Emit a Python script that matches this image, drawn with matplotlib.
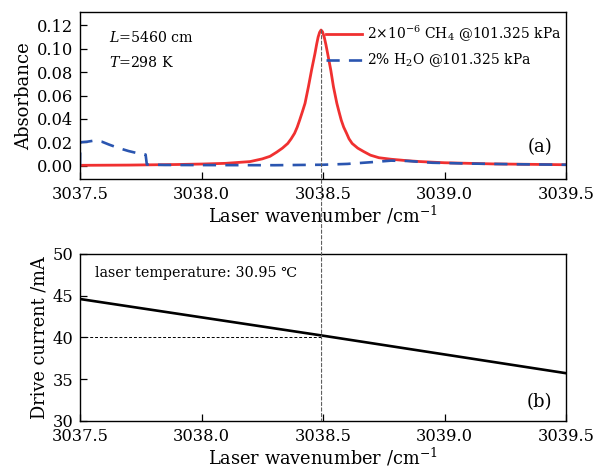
import matplotlib
matplotlib.use("Agg")
import matplotlib.pyplot as plt
from matplotlib.patches import ConnectionPatch

# ---- data ----
ch4_wn = [3037.50, 3037.70, 3037.90, 3038.00, 3038.10, 3038.20, 3038.25, 3038.282,
          3038.309, 3038.333, 3038.355, 3038.369, 3038.383, 3038.394, 3038.404,
          3038.415, 3038.426, 3038.440, 3038.453, 3038.467, 3038.474, 3038.480,
          3038.486, 3038.492, 3038.498, 3038.505, 3038.512, 3038.519, 3038.532,
          3038.543, 3038.557, 3038.566, 3038.575, 3038.585, 3038.597, 3038.607,
          3038.620, 3038.643, 3038.668, 3038.695, 3038.730, 3038.780, 3038.850,
          3038.900, 3039.000, 3039.200, 3039.500]
ch4_abs = [0.0003, 0.0005, 0.0010, 0.0014, 0.0020, 0.0035, 0.0058, 0.0080,
           0.0115, 0.0150, 0.0190, 0.0230, 0.0277, 0.0330, 0.0390,
           0.0460, 0.0533, 0.0675, 0.0818, 0.0960, 0.1040, 0.1100,
           0.1140, 0.1160, 0.1145, 0.1100, 0.1035, 0.0960, 0.0818,
           0.0675, 0.0533, 0.0460, 0.0390, 0.0330, 0.0277, 0.0230,
           0.0190, 0.0150, 0.0120, 0.0090, 0.0068, 0.0055, 0.0042,
           0.0035, 0.0025, 0.0015, 0.0008]

h2o_wn = [3037.500, 3037.501, 3037.53, 3037.56, 3037.59, 3037.62, 3037.66, 3037.70,
          3037.74, 3037.77, 3037.775, 3037.85, 3038.00, 3038.30, 3038.50, 3038.60,
          3038.70, 3038.78, 3038.85, 3038.95, 3039.10, 3039.30, 3039.50]
h2o_abs = [0.0000, 0.0200, 0.0205, 0.0215, 0.0205, 0.0180, 0.0150, 0.0125,
           0.0105, 0.0095, 0.0010, 0.0006, 0.0005, 0.0004, 0.0008, 0.0015,
           0.0030, 0.0043, 0.0040, 0.0025, 0.0018, 0.0012, 0.0008]

cur_wn = [3037.5, 3038.0, 3038.5, 3039.0, 3039.5]
cur_mA = [44.6, 42.4, 40.2, 37.95, 35.7]

peak_wn = 3038.494
peak_abs = 0.116
op_current = 40.1

ch4_label = r"2$\times$10$^{-6}$ CH$_4$ @101.325 kPa"
h2o_label = r"2% H$_2$O @101.325 kPa"

plt.rcParams['font.family'] = ['DejaVu Serif', 'DejaVu Sans']
plt.rcParams['mathtext.fontset'] = 'dejavuserif'

fig = plt.figure(figsize=(5.93, 4.69), dpi=100)
W, H = 593, 469
ax1 = fig.add_axes([80 / W, 1 - 179 / H, (566 - 80) / W, (179 - 12.5) / H])
ax2 = fig.add_axes([80 / W, 1 - 420.7 / H, (566 - 80) / W, (420.7 - 254) / H])

for ax in (ax1, ax2):
    for s in ax.spines.values():
        s.set_linewidth(1.0)
    ax.tick_params(direction='in', length=5, width=0.9, labelsize=11.7,
                   top=False, right=False, pad=5)
    ax.set_xlim(3037.5, 3039.5)
    ax.set_xticks([3037.5, 3038.0, 3038.5, 3039.0, 3039.5])
    ax.set_xticklabels(["3037.5", "3038.0", "3038.5", "3039.0", "3039.5"])
    ax.set_xlabel("Laser wavenumber /cm$^{-1}$", fontsize=12.8, labelpad=1)

# top panel
ax1.plot(ch4_wn, ch4_abs, color='#f03030', lw=2.0, label=ch4_label)
ax1.plot(h2o_wn, h2o_abs, color='#2a55b0', lw=1.9, ls=(0, (5, 3.5)), label=h2o_label)
ax1.set_ylim(-0.0114, 0.131)
ax1.set_yticks([0.00, 0.02, 0.04, 0.06, 0.08, 0.10, 0.12])
ax1.set_yticklabels(["0.00", "0.02", "0.04", "0.06", "0.08", "0.10", "0.12"])
ax1.set_ylabel("Absorbance", fontsize=13, labelpad=3)
leg = ax1.legend(loc='upper right', frameon=False, fontsize=10, handlelength=2.6,
                 handletextpad=0.3, borderaxespad=0.3, labelspacing=0.55,
                 bbox_to_anchor=(1.01, 0.99))
ax1.text(0.06, 0.82, "$L$=5460 cm", transform=ax1.transAxes, fontsize=10.2)
ax1.text(0.06, 0.675, "$T$=298 K", transform=ax1.transAxes, fontsize=10.2)
ax1.text(0.972, 0.16, "(a)", transform=ax1.transAxes, fontsize=13, ha='right')

# bottom panel
ax2.plot(cur_wn, cur_mA, color='black', lw=1.9)
ax2.plot([3037.5, peak_wn], [op_current, op_current], color='black', lw=0.7,
         ls=(0, (3, 2)))
ax2.set_ylim(30, 50)
ax2.set_yticks([30, 35, 40, 45, 50])
ax2.set_ylabel("Drive current /mA", fontsize=12.8, labelpad=3)
ax2.text(0.03, 0.86, "laser temperature: 30.95 \u2103", transform=ax2.transAxes,
         fontsize=10.3)
ax2.text(0.972, 0.08, "(b)", transform=ax2.transAxes, fontsize=13, ha='right')

con = ConnectionPatch(xyA=(peak_wn, peak_abs), coordsA=ax1.transData,
                      xyB=(peak_wn, 30), coordsB=ax2.transData,
                      color='#606060', lw=0.8, ls=(0, (3, 2)))
fig.add_artist(con)

fig.savefig("out.png", dpi=100)
